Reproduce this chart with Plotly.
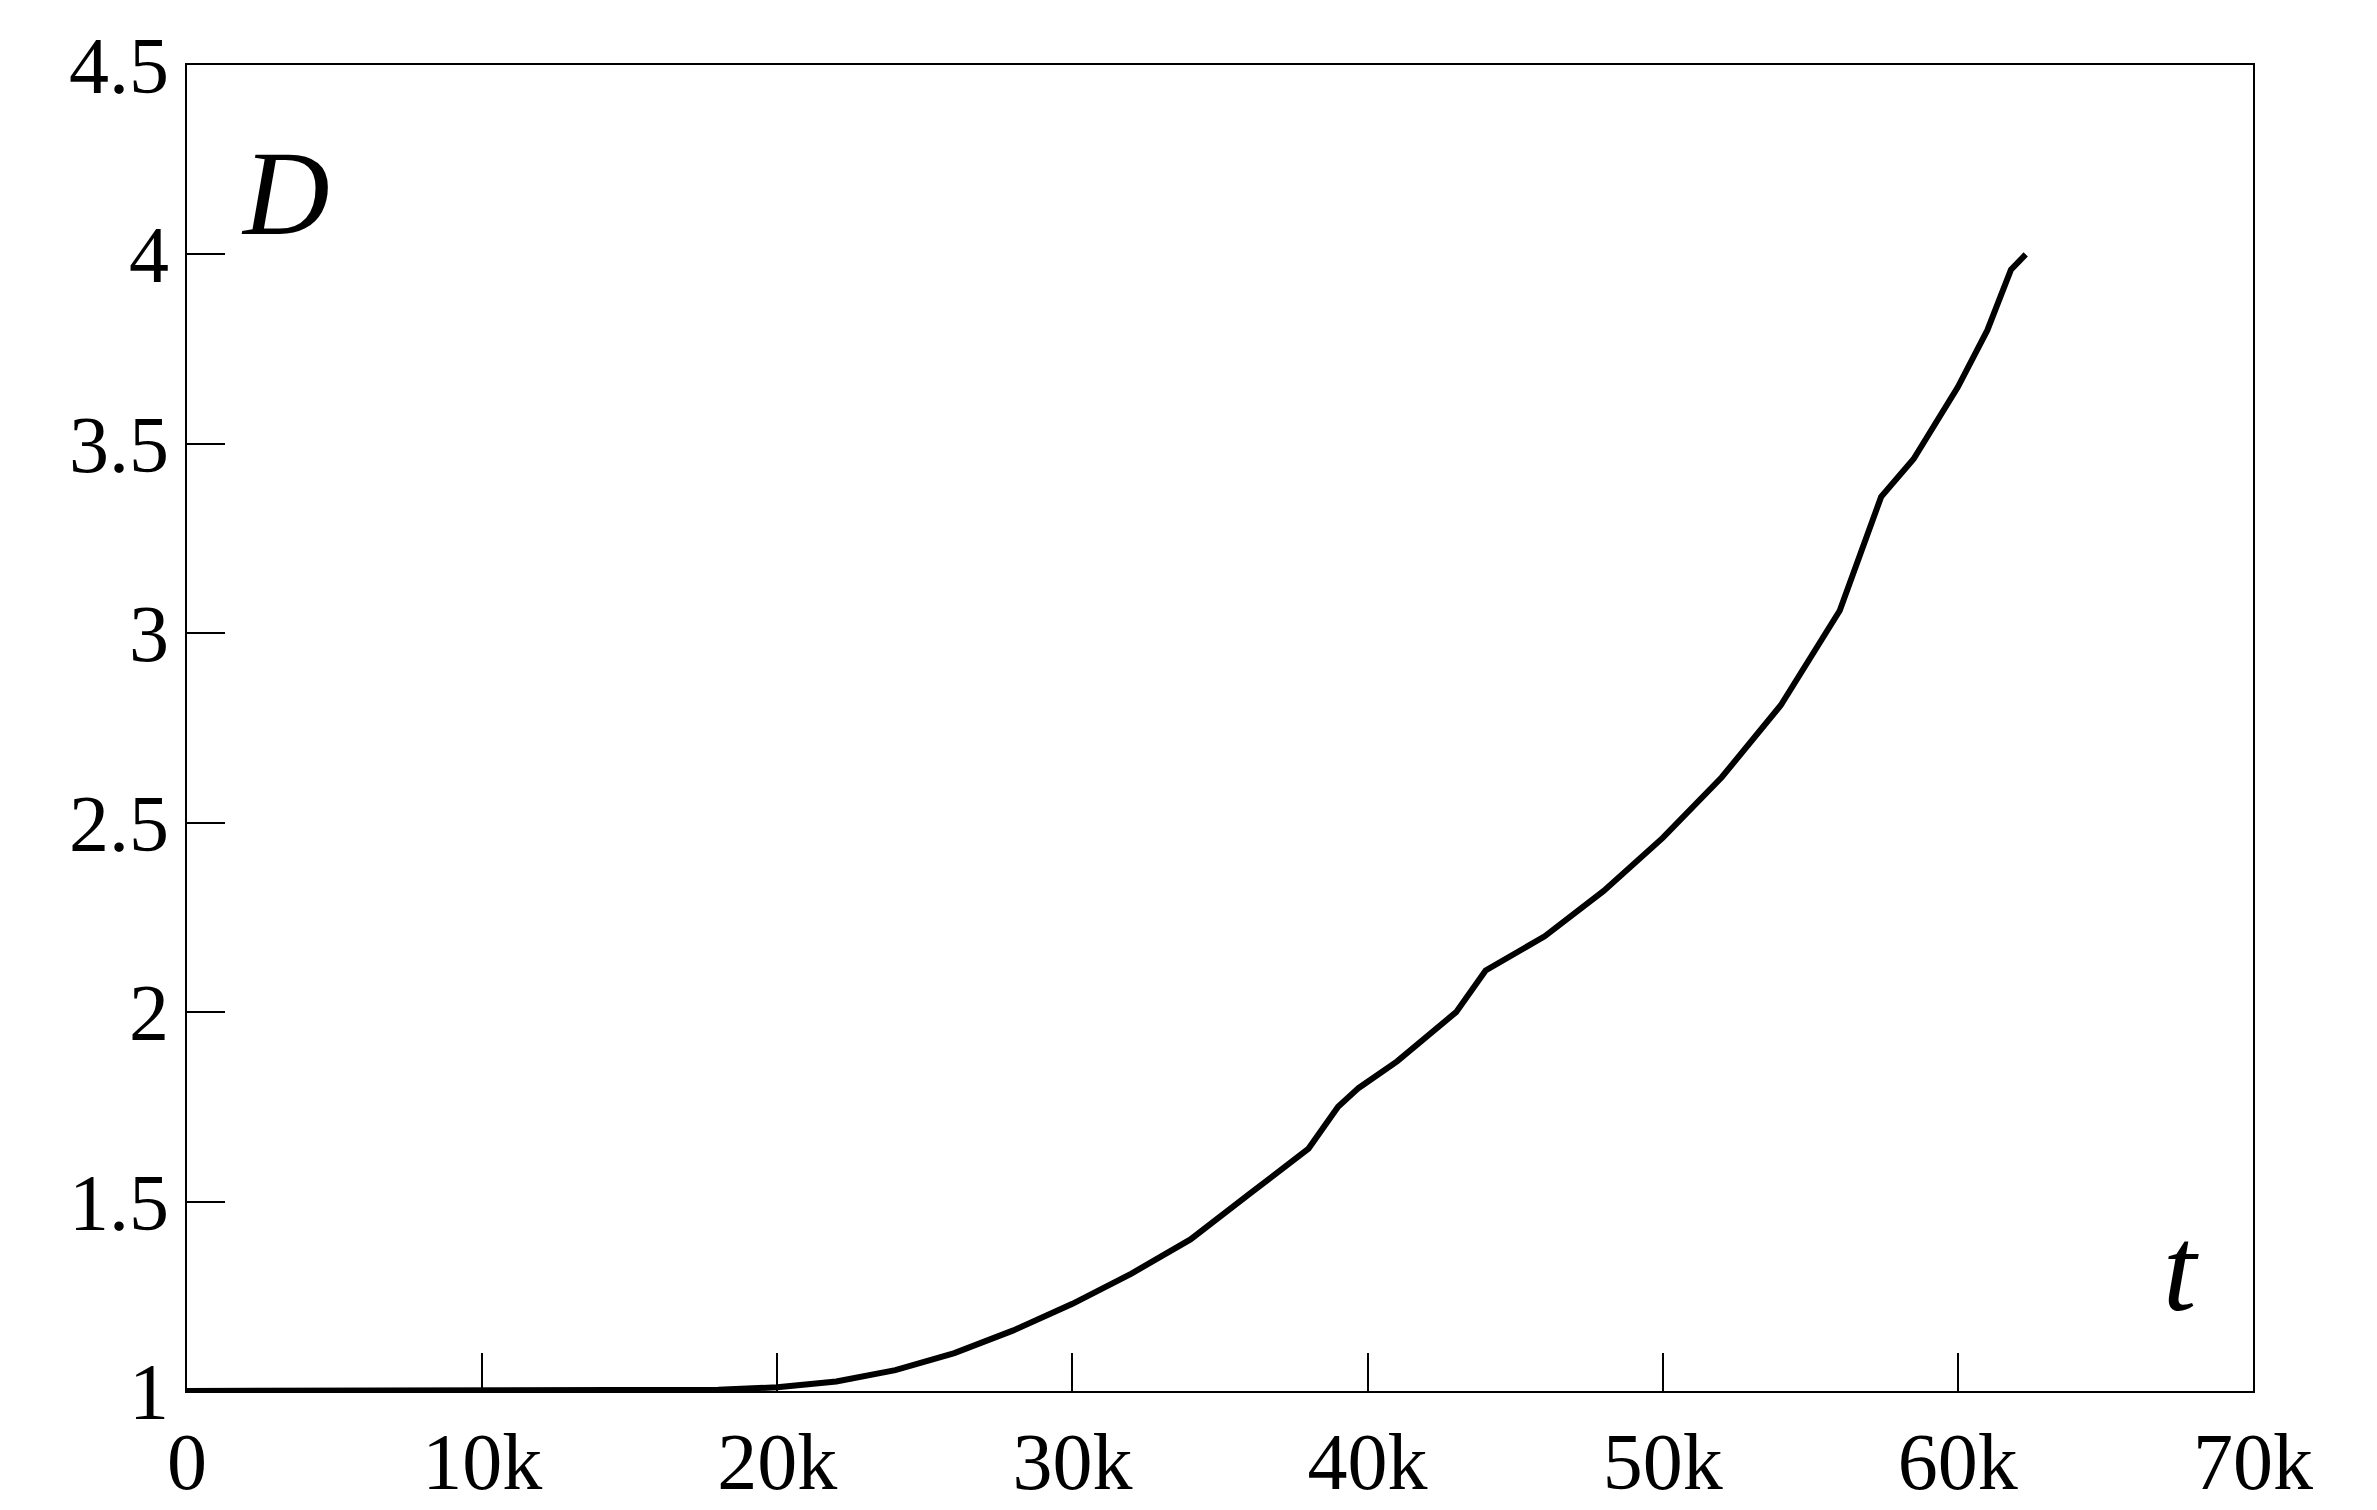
import plotly.graph_objects as go

t = [0, 5000, 10000, 15000, 18000, 20000, 22000, 24000, 26000, 28000, 30000, 32000, 34000, 36000,
     38000, 39000, 39700, 41000, 43000, 44000, 46000, 48000, 50000, 52000, 54000, 56000, 57400,
     58500, 60000, 61000, 61800, 62300]
D = [1.0, 1.0, 1.0, 1.0, 1.003, 1.01, 1.025, 1.055, 1.1, 1.16, 1.23, 1.31, 1.4, 1.52,
     1.64, 1.75, 1.8, 1.87, 2.0, 2.11, 2.2, 2.32, 2.46, 2.62, 2.81, 3.06, 3.36,
     3.46, 3.65, 3.8, 3.96, 4.0]

fig = go.Figure(go.Scatter(x=t, y=D, mode="lines", line=dict(color="black", width=6)))
font = dict(family="Liberation Serif", size=80, color="black")
ax = dict(showgrid=False, zeroline=False, showline=True, mirror=True, linecolor="black",
          linewidth=2, ticks="inside", ticklen=38, tickwidth=1.5, tickcolor="black", tickfont=font)
fig.update_xaxes(range=[0, 70000], dtick=10000, **ax)
fig.update_yaxes(range=[1, 4.5], dtick=0.5, tickvals=[1, 1.5, 2, 2.5, 3, 3.5, 4, 4.5],
                 ticktext=["1", "1.5", "2", "2.5", "3", "3.5", "4", "4.5"], **ax)
fig.add_annotation(x=0.025, y=0.955, xref="paper", yref="paper", text="<i>D</i>", showarrow=False,
                   xanchor="left", yanchor="top", font=dict(family="Liberation Serif", size=120, color="black"))
fig.add_annotation(x=0.975, y=0.04, xref="paper", yref="paper", text="<i>t</i>", showarrow=False,
                   xanchor="right", yanchor="bottom", font=dict(family="Liberation Serif", size=120, color="black"))
fig.update_layout(width=2377, height=1510, paper_bgcolor="white", plot_bgcolor="white",
                  showlegend=False, margin=dict(l=179, r=132, t=57, b=127))
fig.write_html("out.html")
